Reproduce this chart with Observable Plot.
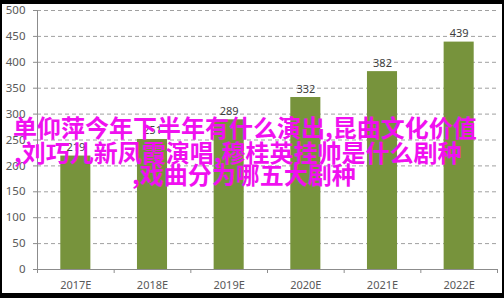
<!DOCTYPE html>
<html>
<head>
<meta charset="utf-8">
<script src="https://cdn.jsdelivr.net/npm/d3@7"></script>
<script src="https://cdn.jsdelivr.net/npm/@observablehq/plot@0.6"></script>
<style>
  html, body { margin: 0; padding: 0; background: #000; }
  #wrap { position: relative; width: 504px; height: 298px; background: #000; overflow: hidden; }
  #chart { position: absolute; left: 2px; top: 4px; width: 500px; height: 289px; background: #fff; }
  #chart svg { display: block; background: #fff; }
  .ov { position: absolute; white-space: nowrap; font-family: "Noto Sans CJK SC", sans-serif; font-weight: 700;
        font-size: 24px; line-height: 24px; color: #f010f0; letter-spacing: 0; }
</style>
</head>
<body>
<div id="wrap">
  <div id="chart"></div>
  <div class="ov" style="left:13px; top:115px;">单仰萍今年下半年有什么演出,昆曲文化价值</div>
  <div class="ov" style="left:14px; top:140px;">,刘巧儿新凤霞演唱,穆桂英挂帅是什么剧种</div>
  <div class="ov" style="left:132px; top:162px;">,戏曲分为哪五大剧种</div>
</div>
<script>
const categories = ["2017E", "2018E", "2019E", "2020E", "2021E", "2022E"];
const values = [219, 251, 289, 332, 382, 439];
const yTicks = [0, 50, 100, 150, 200, 250, 300, 350, 400, 450, 500];

const data = categories.map((c, i) => ({cat: c, i, value: values[i]}));
const boundaries = d3.range(categories.length + 1);
const centers = categories.map((c, i) => i + 0.5);

const axisColor = "#8c8c8c";
const textColor = "#595959";
const font = "Noto Sans, sans-serif";

const chart = Plot.plot({
  width: 500,
  height: 289,
  marginTop: 6,
  marginBottom: 24,
  marginLeft: 35,
  marginRight: 5,
  style: {fontFamily: font, fontSize: "11px", color: textColor, background: "#fff"},
  x: {type: "linear", domain: [0, categories.length]},
  y: {domain: [0, 500]},
  marks: [
    Plot.gridY(yTicks.filter(t => t > 0), {stroke: "#a0a0a0", strokeOpacity: 1, strokeDasharray: "4,3"}),
    Plot.rectY(data, {x1: "i", x2: d => d.i + 1, y: "value", fill: "#77933c", insetLeft: 23.3, insetRight: 23.3}),
    Plot.text(data, {x: d => d.i + 0.5, y: "value", text: d => String(d.value), lineAnchor: "bottom", dy: -5, fill: "#404040", fontSize: 11}),
    Plot.ruleY([0], {stroke: axisColor}),
    Plot.ruleX([0], {stroke: axisColor}),
    Plot.axisY({ticks: yTicks, tickSize: 4, tickPadding: 8, stroke: axisColor, fill: textColor, label: null, fontSize: 11.5}),
    Plot.axisX({ticks: boundaries, tickSize: 4, tickFormat: () => "", stroke: axisColor, label: null}),
    Plot.axisX({ticks: centers, tickSize: 0, tickPadding: 12, tickFormat: d => categories[Math.floor(d)], fill: textColor, label: null, fontSize: 11})
  ]
});
document.getElementById("chart").appendChild(chart);
</script>
</body>
</html>
